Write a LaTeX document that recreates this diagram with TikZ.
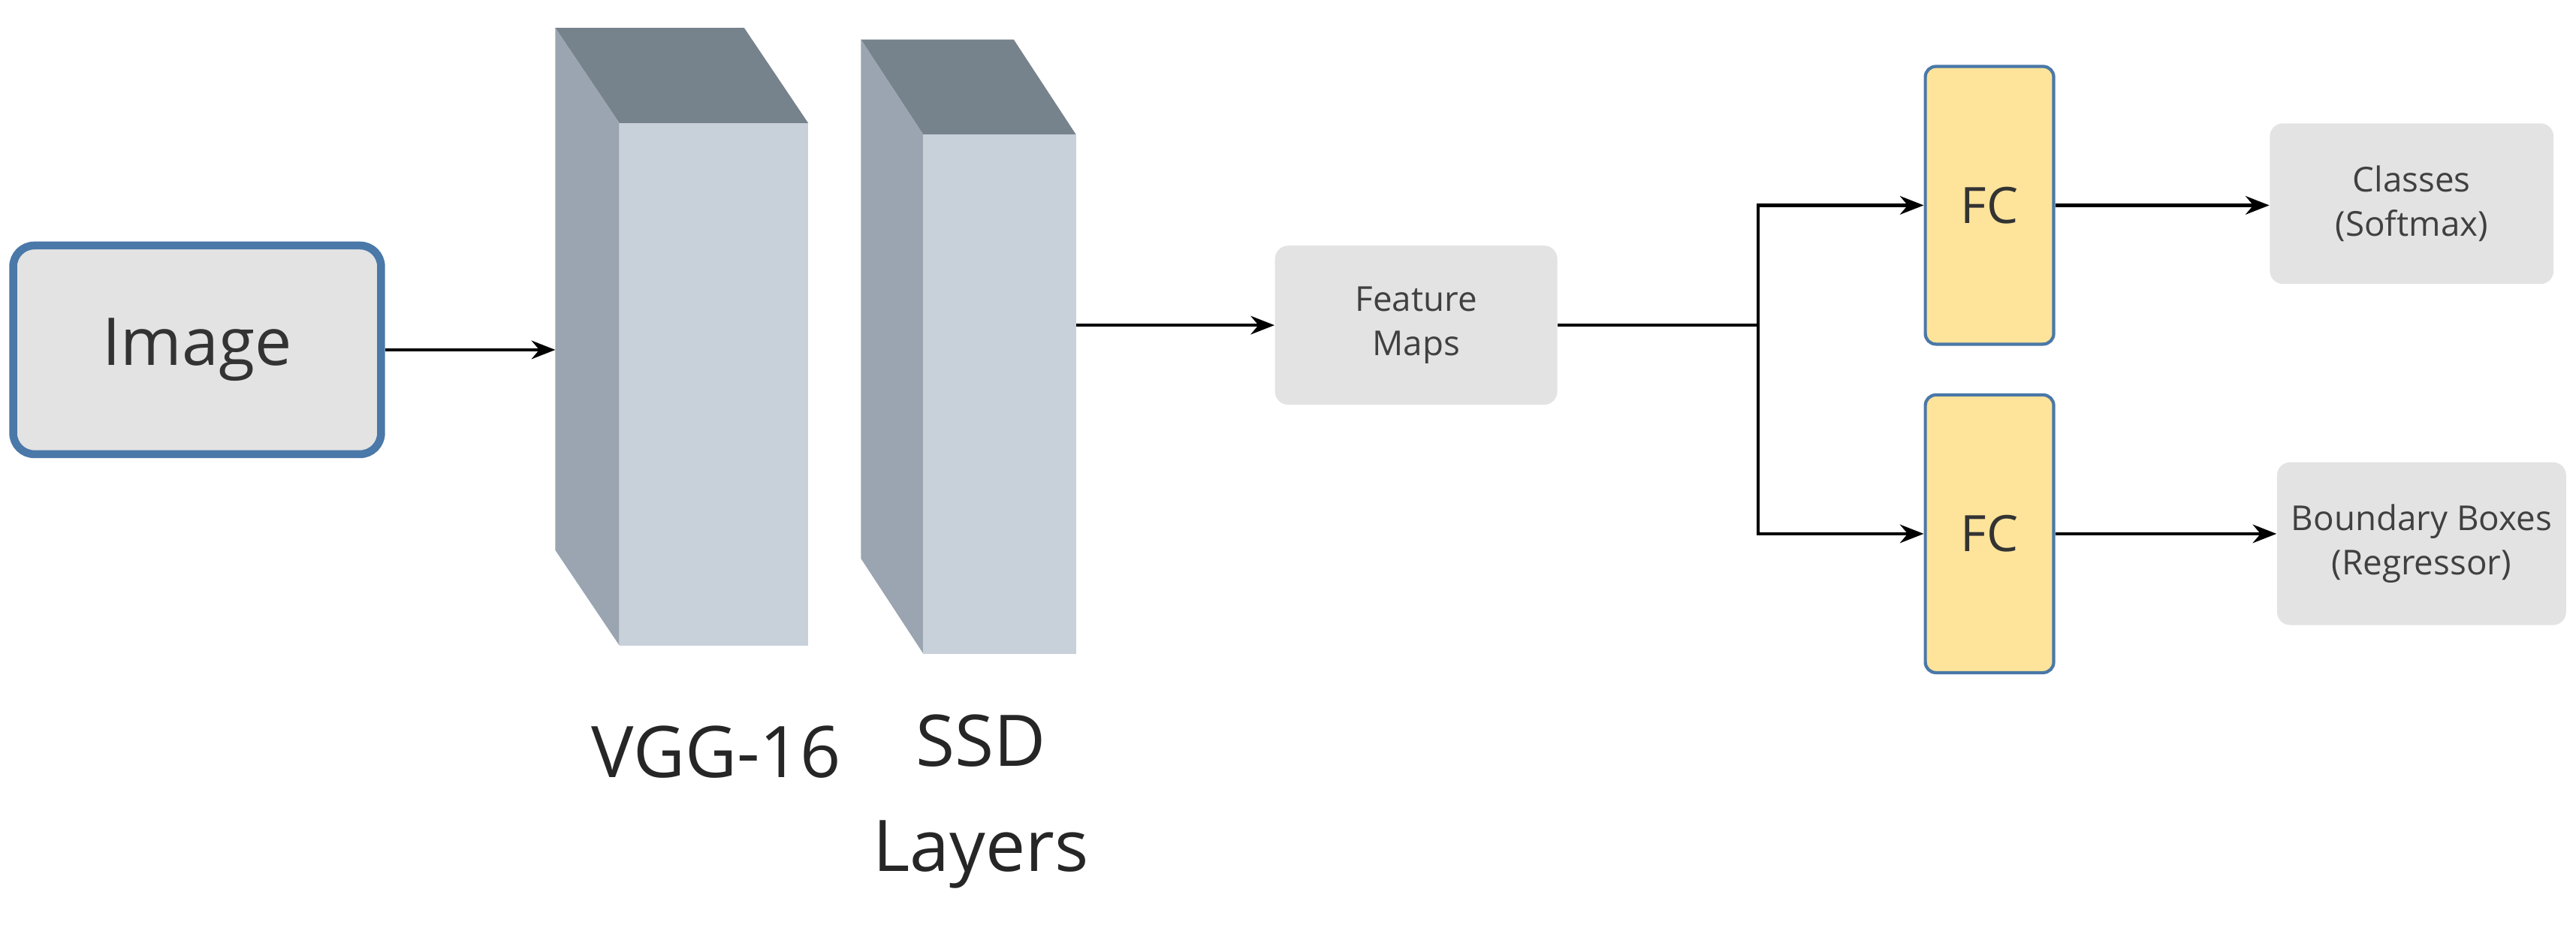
\documentclass[tikz,border=0pt]{standalone}
\usepackage{fontspec}
\setmainfont{Open Sans}
\usetikzlibrary{arrows.meta}
\definecolor{bl}{HTML}{4A78A8}
\definecolor{gbox}{HTML}{E3E3E3}
\definecolor{front}{HTML}{C8D0DA}
\definecolor{side}{HTML}{9AA5B1}
\definecolor{topc}{HTML}{76828C}
\definecolor{fcy}{HTML}{FDE49A}
\begin{document}
\begin{tikzpicture}[x=0.021875cm,y=-0.021875cm,
 arr/.style={-{Stealth[length=9pt,width=7pt]},line width=1.2pt},
 gb/.style={fill=gbox,rounded corners=5pt,align=center,font=\fontsize{13}{17}\selectfont,text=black!75},
 fc/.style={fill=fcy,draw=bl,line width=1.2pt,rounded corners=4pt,font=\fontsize{19}{22}\selectfont,text=black!80}]
\useasboundingbox (0,0) rectangle (1568,563);
\node[draw=bl,line width=3pt,fill=gbox,rounded corners=8pt,font=\fontsize{25}{30}\selectfont,text=black!80,minimum width=4.9cm,minimum height=2.78cm] (img) at (120,213) {Image};
% VGG
\fill[topc] (338,17)--(453,17)--(492,75)--(377,75)--cycle;
\fill[side] (338,17)--(377,75)--(377,393)--(338,335)--cycle;
\fill[front] (377,75) rectangle (492,393);
\coordinate (vggin) at (338,213);
% SSD
\fill[topc] (524,24)--(617,24)--(655,82)--(562,82)--cycle;
\fill[side] (524,24)--(562,82)--(562,398)--(524,340)--cycle;
\fill[front] (562,82) rectangle (655,398);
\coordinate (ssdout) at (655,198);
\node[font=\fontsize{27}{40}\selectfont,text=black!85] (vl) at (436,458) {VGG-16};
\node[font=\fontsize{27}{40}\selectfont,text=black!85,align=center] (sl) at (597,488) {SSD\\Layers};
\node[gb,minimum width=3.76cm,minimum height=2.12cm] (fm) at (862,198) {Feature\\Maps};
\node[fc,minimum width=1.71cm,minimum height=3.7cm] (fc1) at (1211,125) {FC};
\node[fc,minimum width=1.71cm,minimum height=3.7cm] (fc2) at (1211,325) {FC};
\node[gb,minimum width=3.78cm,minimum height=2.14cm] (cl) at (1468,124) {Classes\\(Softmax)};
\node[gb,minimum width=3.85cm,minimum height=2.17cm] (bb) at (1474,331) {Boundary Boxes\\(Regressor)};
\coordinate (j) at (1070,198);
\draw[arr] (img.east) -- (vggin);
\draw[arr] (ssdout) -- (fm.west);
\draw[line width=1.2pt] (fm.east) -- (j);
\draw[arr] (j) |- (fc1.west);
\draw[arr] (j) |- (fc2.west);
\draw[arr] (fc1.east) -- (cl.west|-fc1.east);
\draw[arr] (fc2.east) -- (bb.west|-fc2.east);
\end{tikzpicture}
\end{document}
